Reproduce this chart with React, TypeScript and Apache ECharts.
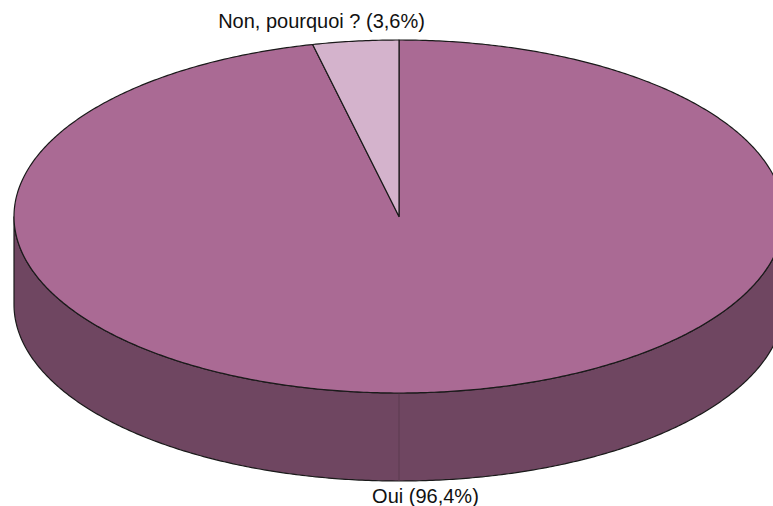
import React, { useEffect, useRef } from "react";
import * as echarts from "echarts";

const categories = ["Oui", "Non, pourquoi ?"];
const values = [96.4, 3.6];
const labelTexts = ["Oui (96,4%)", "Non, pourquoi ? (3,6%)"];
const topColors = ["#AA6A94", "#D4B3CC"];
const sideColors = ["#6F4661", "#8E6F86"];

export default function App() {
  const ref = useRef<HTMLDivElement>(null);
  useEffect(() => {
    if (!ref.current) return;
    const chart = echarts.init(ref.current, null, { renderer: "svg" });
    const total = values.reduce((a, b) => a + b, 0);
    const starts: number[] = [];
    let acc = 0;
    values.forEach((v) => {
      starts.push(acc);
      acc += v;
    });
    const cx = 399,
      cy = 216.5,
      rx = 385,
      ry = 176.5,
      depth = 88;
    const pt = (deg: number, dy = 0) => {
      const r = (deg * Math.PI) / 180;
      return [cx + rx * Math.sin(r), cy - ry * Math.cos(r) + dy];
    };
    const arcPts = (a0: number, a1: number, dy = 0) => {
      const pts: number[][] = [];
      const n = Math.max(2, Math.ceil(Math.abs(a1 - a0) / 0.5));
      for (let i = 0; i <= n; i++) pts.push(pt(a0 + ((a1 - a0) * i) / n, dy));
      return pts;
    };
    const renderItem = (params: any, api: any) => {
      const i = params.dataIndex;
      const v = api.value(0);
      const a0 = (starts[i] / total) * 360;
      const a1 = a0 + (v / total) * 360;
      const children: any[] = [];
      // side (front half only)
      const s0 = Math.max(a0, 90);
      const s1 = Math.min(a1, 270);
      if (s1 > s0) {
        const top = arcPts(s0, s1);
        const bot = arcPts(s1, s0, depth);
        children.push({
          type: "polygon",
          z2: 1,
          shape: { points: top.concat(bot) },
          style: { fill: sideColors[i], stroke: "#1a1a1a", lineWidth: 1.2 },
        });
        if (s0 < 180 && s1 > 180) {
          const p = pt(180);
          children.push({
            type: "line",
            z2: 2,
            shape: { x1: p[0], y1: p[1], x2: p[0], y2: p[1] + depth },
            style: { stroke: "#5c3a51", lineWidth: 1 },
          });
        }
      }
      // top face
      const topPts = [[cx, cy]].concat(arcPts(a0, a1));
      children.push({
        type: "polygon",
        z2: 3,
        shape: { points: topPts },
        style: { fill: topColors[i], stroke: "#1a1a1a", lineWidth: 1.2, lineJoin: "round" },
      });
      // label
      const mid = (a0 + a1) / 2;
      const mp = pt(mid);
      const isTop = Math.cos((mid * Math.PI) / 180) > 0;
      const lx = isTop ? mp[0] - 34 : mp[0] - 17;
      const ly = isTop ? cy - ry - 19 : cy + ry + depth + 15;
      children.push({
        type: "text",
        z2: 4,
        style: {
          text: labelTexts[i],
          x: lx,
          y: ly,
          fill: "#111",
          fontSize: 20,
          fontFamily: "'Liberation Sans', Arial, sans-serif",
          align: "center",
          verticalAlign: "middle",
        },
      });
      return { type: "group", children };
    };
    chart.setOption({
      animation: false,
      backgroundColor: "#ffffff",
      series: [
        {
          type: "custom",
          name: "Réponses",
          coordinateSystem: "none",
          renderItem,
          data: values.map((v, k) => ({ name: categories[k], value: [v] })),
        },
      ],
    });
    return () => chart.dispose();
  }, []);
  return (
    <div
      ref={ref}
      style={{ position: "absolute", left: 0, top: 0, width: 773, height: 506 }}
    />
  );
}
